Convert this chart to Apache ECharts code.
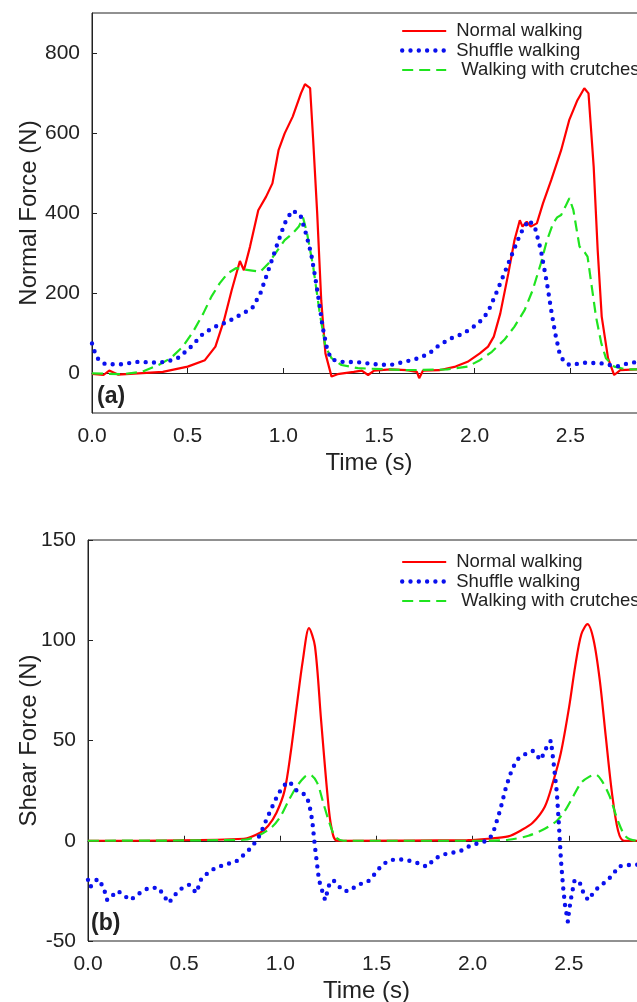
<!DOCTYPE html>
<html>
<head>
<meta charset="utf-8">
<script src="https://cdn.jsdelivr.net/npm/echarts@6/dist/echarts.min.js"></script>
<style>
  html, body { margin: 0; padding: 0; background: #fff; }
  #chart { width: 637px; height: 1002px; }
</style>
</head>
<body>
<div id="chart"></div>
<script>
// (a) normal force
const normalTopT = [0, 0.06, 0.09, 0.135, 0.37, 0.5, 0.59, 0.645, 0.69, 0.73, 0.773, 0.794, 0.826, 0.869, 0.91, 0.943, 0.975, 1.007, 1.049, 1.092, 1.113, 1.14, 1.156, 1.177, 1.198, 1.22, 1.252, 1.283, 1.368, 1.41, 1.443, 1.474, 1.56, 1.645, 1.698, 1.71, 1.73, 1.815, 1.9, 1.963, 2.027, 2.07, 2.1, 2.134, 2.176, 2.208, 2.236, 2.25, 2.272, 2.293, 2.325, 2.357, 2.4, 2.452, 2.494, 2.537, 2.573, 2.595, 2.622, 2.643, 2.664, 2.697, 2.729, 2.761, 2.853, 2.95];
const normalTopF = [-2, -5, 6, -4, 3, 16, 32, 66, 132, 207, 280, 257, 316, 407, 441, 474, 557, 599, 641, 699, 722, 712, 582, 399, 182, 49, -9, -3, 3, 6, -5, 6, 9, 7, 3, -13, 6, 7, 16, 28, 49, 66, 91, 149, 249, 332, 382, 366, 378, 366, 374, 424, 482, 557, 632, 682, 712, 699, 516, 307, 141, 37, -5, 7, 9, 9];

const shuffleTopT = [0, 0.014, 0.035, 0.07, 0.157, 0.24, 0.327, 0.39, 0.455, 0.518, 0.582, 0.645, 0.709, 0.773, 0.837, 0.88, 0.922, 0.964, 1.007, 1.045, 1.088, 1.118, 1.145, 1.166, 1.188, 1.205, 1.23, 1.252, 1.304, 1.39, 1.475, 1.56, 1.623, 1.687, 1.76, 1.815, 1.878, 1.942, 1.995, 2.038, 2.07, 2.112, 2.155, 2.197, 2.24, 2.282, 2.314, 2.346, 2.378, 2.4, 2.421, 2.442, 2.463, 2.495, 2.58, 2.665, 2.707, 2.75, 2.8, 2.853, 2.95];
const shuffleTopF = [74, 53, 32, 22, 22, 28, 26, 28, 39, 66, 99, 116, 128, 145, 162, 199, 257, 316, 374, 406, 397, 349, 299, 241, 174, 116, 57, 34, 28, 27, 22, 20, 27, 34, 48, 70, 87, 99, 116, 133, 153, 199, 249, 299, 349, 382, 366, 307, 224, 157, 99, 53, 31, 20, 26, 24, 20, 17, 24, 28, 28];

const crutchTopT = [0, 0.157, 0.263, 0.348, 0.411, 0.475, 0.528, 0.582, 0.624, 0.667, 0.709, 0.752, 0.794, 0.837, 0.88, 0.922, 0.964, 1.007, 1.049, 1.081, 1.103, 1.124, 1.156, 1.188, 1.22, 1.252, 1.304, 1.39, 1.645, 1.857, 1.963, 2.027, 2.09, 2.155, 2.208, 2.261, 2.303, 2.346, 2.378, 2.41, 2.431, 2.452, 2.474, 2.495, 2.516, 2.548, 2.576, 2.59, 2.612, 2.634, 2.662, 2.686, 2.729, 2.792, 2.95];
const crutchTopF = [-1, -3, 3, 20, 37, 66, 103, 149, 191, 224, 249, 262, 259, 256, 253, 274, 303, 332, 349, 366, 389, 349, 266, 157, 66, 37, 20, 12, 7, 9, 16, 32, 53, 83, 116, 157, 207, 274, 332, 374, 389, 395, 416, 437, 407, 316, 301, 291, 216, 141, 74, 37, 16, 9, 9];

// (b) shear force
const normalBotT = [0, 0.81, 0.895, 0.937, 0.98, 1.022, 1.054, 1.085, 1.117, 1.149, 1.18, 1.212, 1.244, 1.265, 1.297, 1.973, 2.079, 2.185, 2.248, 2.312, 2.375, 2.417, 2.459, 2.502, 2.533, 2.565, 2.597, 2.629, 2.661, 2.692, 2.724, 2.756, 2.787, 2.95];
const normalBotF = [0, 1, 4, 7.5, 14, 25, 44, 67, 90, 106, 97, 60, 24, 7, 0, 0.3, 1, 2.2, 5, 9, 17, 29, 44, 67, 87, 103, 108, 100, 80, 52, 24, 5, 0, 0];

const crutchBotT = [0, 0.81, 0.895, 0.958, 1.0, 1.043, 1.085, 1.128, 1.153, 1.191, 1.223, 1.255, 1.286, 1.328, 2.079, 2.185, 2.29, 2.375, 2.438, 2.48, 2.522, 2.565, 2.607, 2.639, 2.671, 2.713, 2.755, 2.797, 2.857, 2.95];
const crutchBotF = [0, 0.5, 3, 7, 12, 20, 27, 32, 33, 29, 19, 9, 2, 0, 0, 0.5, 2.5, 6, 10, 15, 22, 29, 32, 33, 30, 22, 10, 2, 0, 0];

const shuffleBotT = [0, 0.012, 0.05, 0.08, 0.1, 0.155, 0.22, 0.27, 0.315, 0.367, 0.42, 0.473, 0.525, 0.563, 0.59, 0.642, 0.705, 0.768, 0.81, 0.853, 0.895, 0.927, 0.958, 0.99, 1.022, 1.047, 1.085, 1.128, 1.149, 1.166, 1.18, 1.201, 1.216, 1.233, 1.254, 1.275, 1.297, 1.328, 1.36, 1.402, 1.455, 1.487, 1.529, 1.571, 1.635, 1.698, 1.762, 1.804, 1.867, 1.931, 1.994, 2.058, 2.09, 2.111, 2.143, 2.174, 2.206, 2.238, 2.28, 2.312, 2.354, 2.386, 2.407, 2.422, 2.438, 2.449, 2.459, 2.47, 2.48, 2.495, 2.502, 2.513, 2.53, 2.555, 2.576, 2.6, 2.639, 2.671, 2.702, 2.734, 2.756, 2.797, 2.857, 2.95];
const shuffleBotF = [-19.5, -23, -19, -23, -29.6, -25, -29.6, -26, -23.5, -23.5, -31, -24.5, -22, -26, -18.7, -14.6, -12, -10.5, -7, -3, 3, 10.4, 17, 23.6, 27.8, 29.5, 25, 23, 19, 10, -3, -19.6, -24.5, -29.6, -22, -19.6, -22, -25, -25, -22, -20.4, -17, -12, -9.6, -9.3, -10.5, -13, -8.8, -6.3, -5.4, -2.1, -0.5, 1.2, 5.4, 15.3, 27, 36, 41, 43.6, 44.8, 40.3, 47, 50, 37.8, 23.7, 7, -9.6, -22.9, -32, -40.4, -34.5, -27.9, -19.6, -20.4, -26, -29.6, -24.5, -22, -19.6, -16.3, -12.9, -12.1, -12, -12];

const xTicks = ['0.0', '0.5', '1.0', '1.5', '2.0', '2.5', '3.0'];
const normalTicks = [0, 200, 400, 600, 800];
const names = ['Normal walking', 'Shuffle walking', ' Walking with crutches'];

const pair = (t, v) => t.map((x, i) => [x, v[i]]);

const ink = '#222';
const font = 'Liberation Sans, Arial, sans-serif';

const chart = echarts.init(document.getElementById('chart'), null, { renderer: 'canvas' });

const redStyle = { color: '#ff0000', width: 2.2 };
const blueStyle = { color: '#0a10ee', width: 4.4, type: [0, 8.3], cap: 'round' };
const greenStyle = { color: '#1fe41f', width: 2.2, type: [11, 6] };
const styles = [redStyle, blueStyle, greenStyle];

const xAxisBase = (gridIndex) => ({
  type: 'value',
  gridIndex,
  min: 0,
  max: 3,
  interval: 0.5,
  name: 'Time (s)',
  nameLocation: 'middle',
  nameGap: 38,
  nameMoveOverlap: false,
  nameTextStyle: { color: ink, fontSize: 24, fontFamily: font, padding: [0, 20, 0, 0] },
  axisLine: { lineStyle: { color: ink, width: 1 } },
  axisTick: { inside: true, length: 5, lineStyle: { color: ink } },
  axisLabel: {
    color: ink, fontSize: 21, fontFamily: font, margin: 13,
    formatter: (v) => xTicks[Math.round(v / 0.5)],
  },
  splitLine: { show: false },
});

const lineSeries = (name, data, xi, style, extra) => Object.assign({
  name,
  type: 'line',
  xAxisIndex: xi,
  yAxisIndex: xi,
  data,
  symbol: 'none',
  showSymbol: false,
  lineStyle: style,
  color: style.color,
}, extra || {});

const legendBase = (top) => ({
  orient: 'vertical',
  left: 395,
  top,
  itemGap: 0.5,
  itemWidth: 44,
  itemHeight: 12,
  itemStyle: { opacity: 0 },
  data: names.map((n, i) => ({ name: n, lineStyle: styles[i], itemStyle: { opacity: 0 } })),
  textStyle: { color: ink, fontSize: 18.5, fontFamily: font, padding: [0, 0, 0, 5] },
});

chart.setOption({
  animation: false,
  backgroundColor: '#fff',
  grid: [
    { left: 92, width: 574, top: 13, height: 400, outerBoundsMode: 'none', show: true, borderColor: ink, borderWidth: 1 },
    { left: 88, width: 577, top: 540, height: 401, outerBoundsMode: 'none', show: true, borderColor: ink, borderWidth: 1 },
  ],
  legend: [legendBase(16.5), legendBase(547.5)],
  xAxis: [xAxisBase(0), xAxisBase(1)],
  yAxis: [
    {
      type: 'value',
      gridIndex: 0,
      min: -100,
      max: 900,
      name: 'Normal Force (N)',
      nameLocation: 'middle',
      nameGap: 51,
      nameMoveOverlap: false,
      nameTextStyle: { color: ink, fontSize: 24, fontFamily: font },
      axisLine: { show: true, lineStyle: { color: ink, width: 1 } },
      axisTick: { inside: true, length: 5, customValues: normalTicks, lineStyle: { color: ink } },
      axisLabel: { color: ink, fontSize: 21, fontFamily: font, margin: 12, customValues: normalTicks },
      splitLine: { show: false },
    },
    {
      type: 'value',
      gridIndex: 1,
      min: -50,
      max: 150,
      interval: 50,
      name: 'Shear Force (N)',
      nameLocation: 'middle',
      nameGap: 47,
      nameMoveOverlap: false,
      nameTextStyle: { color: ink, fontSize: 24, fontFamily: font },
      axisLine: { show: true, lineStyle: { color: ink, width: 1 } },
      axisTick: { inside: true, length: 5, lineStyle: { color: ink } },
      axisLabel: { color: ink, fontSize: 21, fontFamily: font, margin: 12 },
      splitLine: { show: false },
    },
  ],
  graphic: [
    { type: 'text', left: 97, top: 385, style: { text: '(a)', fontSize: 23, fontWeight: 'bold', fontFamily: font, fill: ink } },
    { type: 'text', left: 91, top: 912, style: { text: '(b)', fontSize: 23, fontWeight: 'bold', fontFamily: font, fill: ink } },
  ],
  series: [
    lineSeries(names[0], pair(normalTopT, normalTopF), 0, redStyle),
    lineSeries(names[2], pair(crutchTopT, crutchTopF), 0, greenStyle),
    lineSeries(names[1], pair(shuffleTopT, shuffleTopF), 0, blueStyle),
    lineSeries(names[0], pair(normalBotT, normalBotF), 1, redStyle, { smooth: 0.3 }),
    lineSeries(names[2], pair(crutchBotT, crutchBotF), 1, greenStyle, { smooth: 0.3 }),
    lineSeries(names[1], pair(shuffleBotT, shuffleBotF), 1, blueStyle),
  ],
});
</script>
</body>
</html>
